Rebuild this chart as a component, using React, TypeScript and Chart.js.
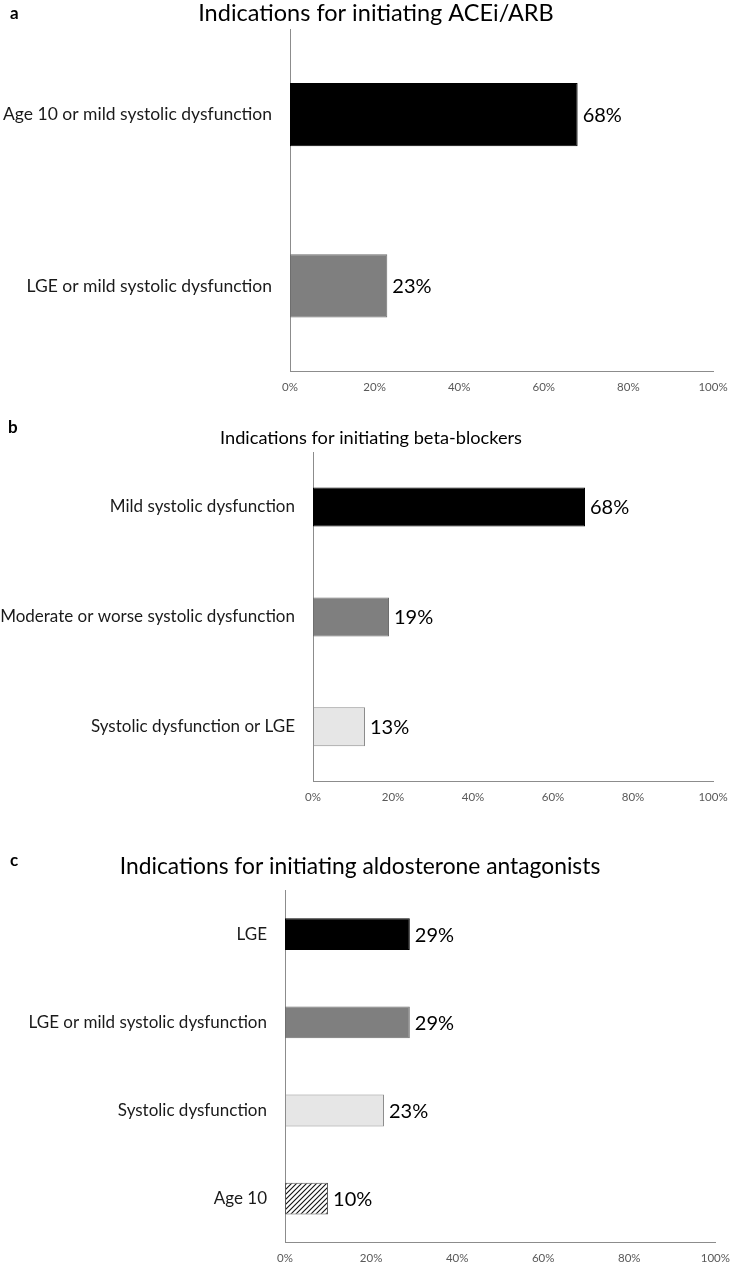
import React, { useEffect, useRef } from "react";
import { Chart, registerables } from "chart.js";

Chart.register(...registerables);

const FONT = "Lato, 'Open Sans', sans-serif";

// ---- data ----
const aCategories = ["Age 10 or mild systolic dysfunction", "LGE or mild systolic dysfunction"];
const aValues = [68, 23];
const aTitle = "Indications for initiating ACEi/ARB";

const bCategories = [
  "Mild systolic dysfunction",
  "Moderate or worse systolic dysfunction",
  "Systolic dysfunction or LGE",
];
const bValues = [68, 19, 13];
const bTitle = "Indications for initiating beta-blockers";

const cCategories = ["LGE", "LGE or mild systolic dysfunction", "Systolic dysfunction", "Age 10"];
const cValues = [29, 29, 23, 10];
const cTitle = "Indications for initiating aldosterone antagonists";

const xTickValues = [0, 20, 40, 60, 80, 100];
const xTickLabels = ["0%", "20%", "40%", "60%", "80%", "100%"];

function makeHatch(): CanvasPattern | string {
  const s = 5;
  const c = document.createElement("canvas");
  c.width = s;
  c.height = s;
  const g = c.getContext("2d");
  if (!g) return "#888";
  g.fillStyle = "#ffffff";
  g.fillRect(0, 0, s, s);
  g.strokeStyle = "#111";
  g.lineWidth = 1.1;
  g.beginPath();
  g.moveTo(-1, s + 1);
  g.lineTo(s + 1, -1);
  g.moveTo(-1, 1);
  g.lineTo(1, -1);
  g.moveTo(s - 1, s + 1);
  g.lineTo(s + 1, s - 1);
  g.stroke();
  const p = g.createPattern(c, "repeat");
  return p || "#888";
}

const overlayPlugin = {
  id: "overlay",
  afterDatasetsDraw(chart: any, _args: any, opts: any) {
    const ctx = chart.ctx;
    const meta = chart.getDatasetMeta(0);
    const vals = chart.data.datasets[0].data;
    ctx.save();
    ctx.fillStyle = "#000";
    ctx.textBaseline = "middle";
    ctx.textAlign = "left";
    ctx.font = `${opts.valueSize}px ${FONT}`;
    meta.data.forEach((bar: any, i: number) => {
      ctx.fillText(`${vals[i]}%`, bar.x + opts.valueGap, bar.y + 1);
    });
    ctx.font = `${opts.titleSize}px ${FONT}`;
    ctx.textAlign = "center";
    ctx.fillText(opts.title, opts.titleX, opts.titleY);
    ctx.font = `bold ${opts.letterSize}px ${FONT}`;
    ctx.textAlign = "left";
    ctx.fillText(opts.letter, opts.letterX, opts.letterY);
    ctx.restore();
  },
};

type Panel = {
  letter: string;
  title: string;
  categories: string[];
  values: number[];
  colors: string[];
  borders: string[];
  hatchLast?: boolean;
  top: number;
  height: number;
  areaTop: number;
  areaBottom: number;
  axisX: number;
  right: number;
  barPct: number;
  titleX: number;
  titleY: number;
  titleSize: number;
  labelSize: number;
  letterX: number;
  letterY: number;
};

const W = 739;

function PanelChart({ p }: { p: Panel }) {
  const ref = useRef<HTMLCanvasElement | null>(null);
  useEffect(() => {
    if (!ref.current) return;
    const bg: any[] = p.colors.slice();
    if (p.hatchLast) bg[bg.length - 1] = makeHatch();
    const xAxisH = p.top + p.height - p.areaBottom;
    const chart = new Chart(ref.current, {
      type: "bar",
      data: {
        labels: p.categories,
        datasets: [
          {
            data: p.values,
            backgroundColor: bg,
            borderColor: p.borders,
            borderWidth: 1,
            borderSkipped: false,
            categoryPercentage: 1,
            barPercentage: p.barPct,
          },
        ],
      },
      options: {
        indexAxis: "y",
        responsive: false,
        animation: false,
        layout: {
          padding: { top: p.areaTop - p.top, bottom: 0, left: 0, right: W - p.right },
        },
        plugins: {
          legend: { display: false },
          tooltip: { enabled: false },
          title: { display: false },
          overlay: {
            title: p.title,
            titleX: p.titleX,
            titleY: p.titleY - p.top,
            titleSize: p.titleSize,
            letter: p.letter,
            letterX: p.letterX,
            letterY: p.letterY - p.top,
            letterSize: 17,
            valueSize: 20,
            valueGap: 5,
          },
        } as any,
        scales: {
          x: {
            min: 0,
            max: 100,
            afterBuildTicks: (s: any) => {
              s.ticks = xTickValues.map((v) => ({ value: v }));
            },
            afterFit: (s: any) => {
              s.height = xAxisH;
            },
            grid: { display: false, drawTicks: false },
            border: { display: true, color: "#8c8c8c", width: 1 },
            ticks: {
              padding: 9,
              color: "#595959",
              font: { family: FONT, size: 11.5 },
              maxRotation: 0,
              callback: (v: any) => xTickLabels[xTickValues.indexOf(Number(v))],
            },
          },
          y: {
            afterFit: (s: any) => {
              s.width = p.axisX;
            },
            grid: { display: false, drawTicks: false },
            border: { display: true, color: "#8c8c8c", width: 1 },
            ticks: {
              padding: 18,
              color: "#1a1a1a",
              font: { family: FONT, size: p.labelSize },
            },
          },
        },
      },
      plugins: [overlayPlugin],
    } as any);
    return () => chart.destroy();
  }, [p]);
  return (
    <canvas
      ref={ref}
      width={W}
      height={p.height}
      style={{ position: "absolute", left: 0, top: p.top, width: W, height: p.height }}
    />
  );
}

const panels: Panel[] = [
  {
    letter: "a",
    title: aTitle,
    categories: aCategories,
    values: aValues,
    colors: ["#000000", "#7f7f7f"],
    borders: ["#000000", "#6e6e6e"],
    top: 0,
    height: 400,
    areaTop: 29,
    areaBottom: 372,
    axisX: 290,
    right: 713,
    barPct: 0.37,
    titleX: 376,
    titleY: 13,
    titleSize: 23.5,
    labelSize: 17.5,
    letterX: 10,
    letterY: 14,
  },
  {
    letter: "b",
    title: bTitle,
    categories: bCategories,
    values: bValues,
    colors: ["#000000", "#7f7f7f", "#e6e6e6"],
    borders: ["#000000", "#6e6e6e", "#8c8c8c"],
    top: 400,
    height: 410,
    areaTop: 452,
    areaBottom: 783,
    axisX: 313,
    right: 713,
    barPct: 0.355,
    titleX: 371,
    titleY: 438,
    titleSize: 18.2,
    labelSize: 17,
    letterX: 8,
    letterY: 428,
  },
  {
    letter: "c",
    title: cTitle,
    categories: cCategories,
    values: cValues,
    colors: ["#000000", "#7f7f7f", "#e6e6e6", "#ffffff"],
    borders: ["#000000", "#6e6e6e", "#8c8c8c", "#555555"],
    hatchLast: true,
    top: 810,
    height: 461,
    areaTop: 890,
    areaBottom: 1247,
    axisX: 285,
    right: 722,
    barPct: 0.36,
    titleX: 360,
    titleY: 867,
    titleSize: 22.8,
    labelSize: 17,
    letterX: 10,
    letterY: 861,
  },
];

export default function App() {
  return (
    <div style={{ position: "absolute", left: 0, top: 0, width: W, height: 1271, background: "#fff" }}>
      {panels.map((p) => (
        <PanelChart key={p.letter} p={p} />
      ))}
    </div>
  );
}
